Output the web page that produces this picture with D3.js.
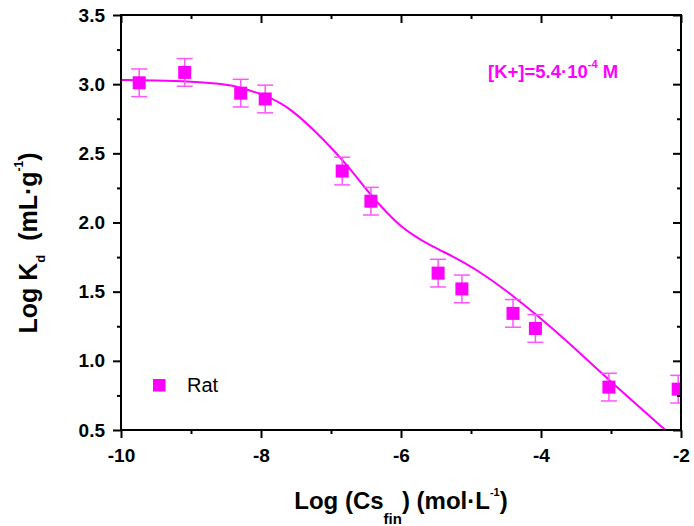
<!DOCTYPE html>
<html>
<head>
<meta charset="utf-8">
<script src="https://cdn.jsdelivr.net/npm/d3@7/dist/d3.min.js"></script>
<style>
  html, body { margin: 0; padding: 0; background: #fff; }
  svg { display: block; }
  text { font-family: "Liberation Sans", Arial, sans-serif; }
</style>
</head>
<body>
<svg id="chart" width="694" height="526"></svg>
<script>
// Measured distribution coefficients (Rat), log scale
const logCs = [-9.74, -9.09, -8.29, -7.94, -6.84, -6.43, -5.47, -5.13, -4.40, -4.08, -3.03, -2.04];
const logKd = [3.01, 3.085, 2.935, 2.893, 2.372, 2.154, 1.634, 1.52, 1.343, 1.234, 0.81, 0.795];
const logKdErr = [0.1, 0.1, 0.1, 0.1, 0.1, 0.1, 0.1, 0.1, 0.1, 0.1, 0.1, 0.1];

// Model fit curve
const fitX = [-10, -9.5, -9.0, -8.5, -8.29, -7.94, -7.59, -7.09, -6.76, -6.43, -6.2, -6.0, -5.8, -5.6, -5.4, -5.13, -4.8, -4.4, -4.07, -3.6, -3.03, -2.2, -2.0];
const fitY = [3.03, 3.028, 3.02, 3.0, 2.976, 2.92, 2.835, 2.594, 2.41, 2.196, 2.07, 1.97, 1.90, 1.84, 1.79, 1.72, 1.62, 1.47, 1.335, 1.13, 0.86, 0.49, 0.40];

// Axis ticks
const xMajor = [-10, -8, -6, -4, -2];
const xMinor = [-9, -7, -5, -3];
const yMajor = [0.5, 1.0, 1.5, 2.0, 2.5, 3.0, 3.5];
const yMinor = [0.75, 1.25, 1.75, 2.25, 2.75, 3.25];

const color = "#ff00ff";
const errColor = "#ff55ff";

const svg = d3.select("#chart");
const W = 694, H = 526;
const m = { left: 121, right: 13, top: 15, bottom: 96 };
const iw = W - m.left - m.right, ih = H - m.top - m.bottom;

const x = d3.scaleLinear().domain([-10, -2]).range([m.left, m.left + iw]);
const y = d3.scaleLinear().domain([0.5, 3.5]).range([m.top + ih, m.top]);

svg.append("rect").attr("width", W).attr("height", H).attr("fill", "#fff");

svg.append("defs").append("clipPath").attr("id", "plotClip")
  .append("rect").attr("x", m.left).attr("y", m.top).attr("width", iw).attr("height", ih);

const plot = svg.append("g").attr("clip-path", "url(#plotClip)");

// fit line
const line = d3.line().x((d, i) => x(fitX[i])).y(d => y(d)).curve(d3.curveBasis);
plot.append("path").datum(fitY).attr("d", line)
  .attr("fill", "none").attr("stroke", color).attr("stroke-width", 2);

// error bars
const pts = logCs.map((v, i) => ({ x: v, y: logKd[i], e: logKdErr[i] }));
const capW = 8;
const eb = plot.append("g").attr("stroke", errColor).attr("stroke-width", 1.5).attr("fill", "none");
pts.forEach(p => {
  const cx = x(p.x), y1 = y(p.y + p.e), y0 = y(p.y - p.e);
  eb.append("line").attr("x1", cx).attr("x2", cx).attr("y1", y1).attr("y2", y0);
  eb.append("line").attr("x1", cx - capW).attr("x2", cx + capW).attr("y1", y1).attr("y2", y1);
  eb.append("line").attr("x1", cx - capW).attr("x2", cx + capW).attr("y1", y0).attr("y2", y0);
});

// squares
const sz = 13;
plot.append("g").selectAll("rect").data(pts).join("rect")
  .attr("x", d => x(d.x) - sz / 2).attr("y", d => y(d.y) - sz / 2)
  .attr("width", sz).attr("height", sz).attr("fill", color);

// axes
function styleAxis(g) {
  g.select(".domain").remove();
  g.selectAll(".tick line").attr("stroke", "#000").attr("stroke-width", 2);
  g.selectAll(".tick text").attr("fill", "#000")
    .style("font-family", '"Liberation Sans", Arial, sans-serif')
    .style("font-size", "19px").style("font-weight", "bold");
}
const fmtX = d => String(d);
const fmtY = d => d.toFixed(1);

svg.append("g").attr("transform", `translate(0,${m.top + ih})`)
  .call(d3.axisBottom(x).tickValues(xMajor).tickSize(8).tickPadding(11).tickFormat(fmtX))
  .call(styleAxis);
svg.append("g").attr("transform", `translate(0,${m.top + ih})`)
  .call(d3.axisBottom(x).tickValues(xMinor).tickSize(4).tickFormat(""))
  .call(styleAxis);
svg.append("g").attr("transform", `translate(0,${m.top})`)
  .call(d3.axisTop(x).tickValues(xMajor).tickSize(-8).tickFormat(""))
  .call(styleAxis);
svg.append("g").attr("transform", `translate(0,${m.top})`)
  .call(d3.axisTop(x).tickValues(xMinor).tickSize(-4).tickFormat(""))
  .call(styleAxis);

svg.append("g").attr("transform", `translate(${m.left},0)`)
  .call(d3.axisLeft(y).tickValues(yMajor).tickSize(8).tickPadding(8).tickFormat(fmtY))
  .call(styleAxis);
svg.append("g").attr("transform", `translate(${m.left},0)`)
  .call(d3.axisLeft(y).tickValues(yMinor).tickSize(4).tickFormat(""))
  .call(styleAxis);
svg.append("g").attr("transform", `translate(${m.left + iw},0)`)
  .call(d3.axisRight(y).tickValues(yMajor).tickSize(-8).tickFormat(""))
  .call(styleAxis);
svg.append("g").attr("transform", `translate(${m.left + iw},0)`)
  .call(d3.axisRight(y).tickValues(yMinor).tickSize(-4).tickFormat(""))
  .call(styleAxis);

// frame
svg.append("rect").attr("x", m.left).attr("y", m.top).attr("width", iw).attr("height", ih)
  .attr("fill", "none").attr("stroke", "#000").attr("stroke-width", 2);

// axis titles
const xt = svg.append("text").attr("x", m.left + iw / 2).attr("y", 509)
  .attr("text-anchor", "middle").attr("font-size", 24).attr("font-weight", "bold").attr("fill", "#000");
xt.append("tspan").text("Log (Cs");
xt.append("tspan").attr("font-size", 15).attr("dy", 15).text("fin");
xt.append("tspan").attr("dy", -15).text(") (mol·L");
xt.append("tspan").attr("font-size", 11).attr("dy", -13).text("-1");
xt.append("tspan").attr("dy", 13).text(")");

const yt = svg.append("text").attr("transform", "translate(37,243) rotate(-90)")
  .attr("text-anchor", "middle").attr("font-size", 25).attr("font-weight", "bold").attr("fill", "#000");
yt.append("tspan").text("Log K");
yt.append("tspan").attr("font-size", 13).attr("dy", 8).text("d");
yt.append("tspan").attr("dy", -8).text("\u00a0\u00a0(mL·g");
yt.append("tspan").attr("font-size", 12).attr("dy", -14).text("-1");
yt.append("tspan").attr("dy", 14).text(")");

// annotation
const an = svg.append("text").attr("x", 488).attr("y", 78)
  .attr("font-size", 18.5).attr("font-weight", "bold").attr("fill", color);
an.append("tspan").text("[K+]=5.4·10");
an.append("tspan").attr("font-size", 11).attr("dy", -10).text("-4");
an.append("tspan").attr("dy", 10).text(" M");

// legend
svg.append("rect").attr("x", 153).attr("y", 379).attr("width", 12.5).attr("height", 12.5).attr("fill", color);
svg.append("text").attr("x", 187).attr("y", 392).attr("font-size", 20).attr("fill", "#000").text("Rat");
</script>
</body>
</html>
